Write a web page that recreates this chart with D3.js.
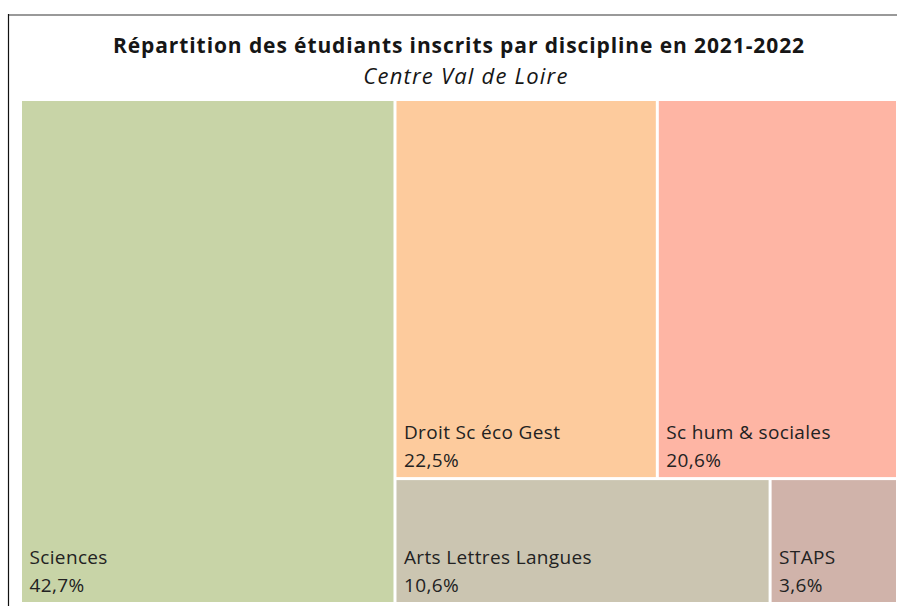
<!DOCTYPE html>
<html>
<head>
<meta charset="utf-8">
<script src="https://cdn.jsdelivr.net/npm/d3@7"></script>
<style>
  body { margin: 0; background: #fff; }
  svg { display: block; font-family: "Open Sans", sans-serif; }
</style>
</head>
<body>
<svg id="chart" width="897" height="606"></svg>
<script>
const disciplines = ["Sciences", "Droit Sc éco Gest", "Sc hum & sociales", "Arts Lettres Langues", "STAPS"];
const shares = [42.7, 22.5, 20.6, 10.6, 3.6];
const tileColors = ["#c8d4a7", "#fdcb9d", "#feb5a4", "#cbc5b1", "#d0b3aa"];

const svg = d3.select("#chart");

// frame around the chart (cut off on the right and bottom)
svg.append("line")
  .attr("x1", 8).attr("x2", 897).attr("y1", 15).attr("y2", 15)
  .attr("stroke", "#777").attr("stroke-width", 1.5);
svg.append("line")
  .attr("x1", 8.5).attr("x2", 8.5).attr("y1", 14).attr("y2", 606)
  .attr("stroke", "#111").attr("stroke-width", 1.2);

svg.append("text")
  .attr("x", 459).attr("y", 53)
  .attr("text-anchor", "middle")
  .attr("font-size", 21).attr("font-weight", "bold").attr("fill", "#161616")
  .attr("letter-spacing", 0.9)
  .text("Répartition des étudiants inscrits par discipline en 2021-2022");

svg.append("text")
  .attr("x", 466).attr("y", 84)
  .attr("text-anchor", "middle")
  .attr("font-size", 22).attr("font-style", "italic").attr("fill", "#161616")
  .attr("letter-spacing", 1.2)
  .text("Centre Val de Loire");

const root = d3.hierarchy({
  children: disciplines.map((name, i) => ({ name, value: shares[i], color: tileColors[i] }))
})
  .sum(d => d.value || 0)
  .sort((a, b) => b.value - a.value);

d3.treemap()
  .tile(d3.treemapSquarify.ratio(1))
  .size([874, 501])
  .paddingInner(3)(root);

const g = svg.append("g").attr("transform", "translate(22,101)");

const cell = g.selectAll("g")
  .data(root.leaves())
  .enter()
  .append("g")
  .attr("transform", d => `translate(${d.x0},${d.y0})`);

cell.append("rect")
  .attr("width", d => d.x1 - d.x0)
  .attr("height", d => d.y1 - d.y0)
  .attr("fill", d => d.data.color);

cell.append("text")
  .attr("x", 7.5)
  .attr("y", d => d.y1 - d.y0 - 38)
  .attr("font-size", 19).attr("fill", "#222").attr("letter-spacing", 0.35)
  .text(d => d.data.name);

cell.append("text")
  .attr("x", 7.5)
  .attr("y", d => d.y1 - d.y0 - 10)
  .attr("font-size", 19).attr("fill", "#222").attr("letter-spacing", 0.35)
  .text(d => d3.format(".1f")(d.data.value).replace(".", ",") + "%");
</script>
</body>
</html>
